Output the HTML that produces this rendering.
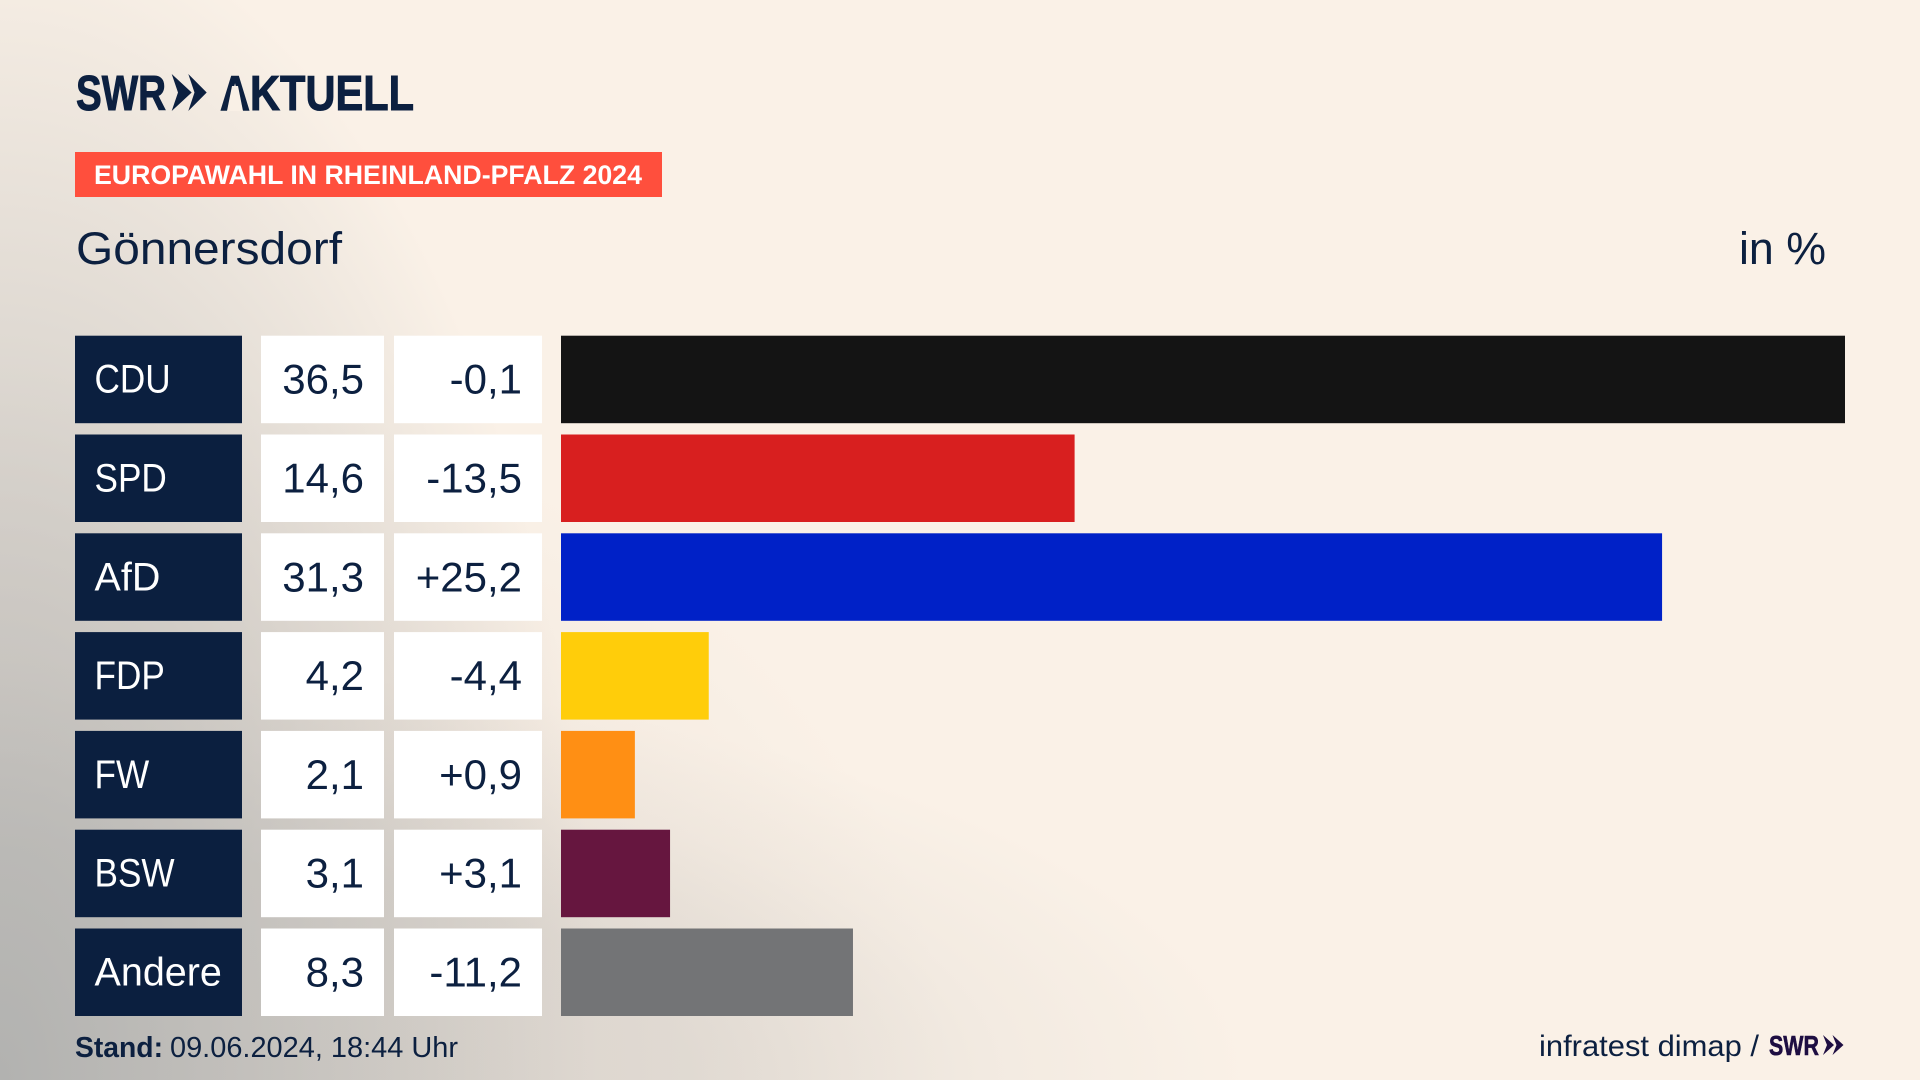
<!DOCTYPE html>
<html lang="de">
<head>
<meta charset="utf-8">
<title>Europawahl in Rheinland-Pfalz 2024 – Gönnersdorf</title>
<style>
html,body{margin:0;padding:0;width:1920px;height:1080px;overflow:hidden;background:#faf1e7;}
#stage{position:relative;width:1920px;height:1080px;overflow:hidden;
background:
 radial-gradient(ellipse 600px 1180px at 0px 1080px, rgba(178,178,176,1) 0%, rgba(178,178,176,0) 100%),
 radial-gradient(ellipse 1250px 420px at 0px 1080px, rgba(178,178,176,.36) 0%, rgba(178,178,176,.3) 55%, rgba(178,178,176,.1) 80%, rgba(178,178,176,0) 100%),
 radial-gradient(ellipse 950px 720px at 0px 1080px, rgba(190,175,165,.2) 0%, rgba(190,175,165,.12) 65%, rgba(190,175,165,0) 100%),
 #faf1e7;}
svg{position:absolute;left:0;top:0;}
text{font-family:"Liberation Sans",sans-serif;}
</style>
</head>
<body>
<div id="stage">
<svg id="chart" width="1920" height="1080" viewBox="0 0 1920 1080">
  <g fill="#0c2040" stroke="#0c2040" stroke-width="1">
    <text x="76" y="110" font-size="49" font-weight="700" textLength="90" lengthAdjust="spacingAndGlyphs">SWR</text>
    <polygon points="171.7,74 191.7,92.5 171.7,111 178,92.5" stroke="none"/>
    <polygon points="188.3,74 206.7,92.5 188.3,111 194.5,92.5" stroke="none"/>
    <text x="220" y="110" font-size="49" font-weight="700" textLength="194" lengthAdjust="spacingAndGlyphs">AKTUELL</text>
    <polygon points="232,86 238,86 243,111 227,111" fill="#f9f0e6" stroke="none"/>
  </g>
  <rect x="75" y="152" width="587" height="45" fill="#ff4f3d"/>
  <text x="94" y="184" font-size="27" font-weight="700" fill="#fff" textLength="548" lengthAdjust="spacingAndGlyphs">EUROPAWAHL IN RHEINLAND-PFALZ 2024</text>
  <text x="76" y="264" font-size="45" fill="#0c2040" textLength="266" lengthAdjust="spacingAndGlyphs">Gönnersdorf</text>
  <text x="1739" y="264" font-size="45" fill="#0c2040" textLength="87" lengthAdjust="spacingAndGlyphs">in %</text>
  <g id="rows"></g>
  <text x="75" y="1057" font-size="29" font-weight="700" fill="#0c2040" textLength="88" lengthAdjust="spacingAndGlyphs">Stand:</text>
  <text x="170" y="1057" font-size="29" fill="#0c2040" textLength="288" lengthAdjust="spacingAndGlyphs">09.06.2024, 18:44 Uhr</text>
  <text x="1539" y="1056" font-size="30" fill="#0c2040" textLength="220" lengthAdjust="spacingAndGlyphs">infratest dimap /</text>
  <g fill="#1e0e42">
    <text x="1769" y="1055" font-size="28" font-weight="700" stroke="#1e0e42" stroke-width=".6" textLength="50" lengthAdjust="spacingAndGlyphs">SWR</text>
    <polygon points="1823,1035 1834,1045 1823,1055 1827,1045"/>
    <polygon points="1832.5,1035 1843.5,1045 1832.5,1055 1836.5,1045"/>
  </g>
</svg>
</div>
<script>
const categories = ["CDU", "SPD", "AfD", "FDP", "FW", "BSW", "Andere"];
const shares = [36.5, 14.6, 31.3, 4.2, 2.1, 3.1, 8.3];
const changes = [-0.1, -13.5, 25.2, -4.4, 0.9, 3.1, -11.2];
const barColors = ["#141414", "#d81f1f", "#0021c7", "#ffcd0a", "#ff8f14", "#66163f", "#737476"];

const NS = "http://www.w3.org/2000/svg";
const rowsGroup = document.getElementById("rows");
const bandTop = 335.7, bandStep = 98.8, bandHeight = 87.5;
const barX0 = 561, pxPerPoint = 1284 / 36.5;

function yScale(i) { return bandTop + i * bandStep; }
function xScale(v) { return v * pxPerPoint; }
function fmtShare(v) { return v.toFixed(1).replace(".", ","); }
function fmtChange(v) { return (v > 0 ? "+" : "") + v.toFixed(1).replace(".", ","); }

function makeRect(x, y, w, h, fill) {
  const r = document.createElementNS(NS, "rect");
  r.setAttribute("x", x);
  r.setAttribute("y", y);
  r.setAttribute("width", w);
  r.setAttribute("height", h);
  r.setAttribute("fill", fill);
  return r;
}
function makeText(str, x, y, size, fill, anchor) {
  const t = document.createElementNS(NS, "text");
  t.textContent = str;
  t.setAttribute("x", x);
  t.setAttribute("y", y);
  t.setAttribute("font-size", size);
  t.setAttribute("fill", fill);
  t.setAttribute("text-anchor", anchor);
  return t;
}

categories.forEach(function (name, i) {
  const y = yScale(i);
  const slug = name.toLowerCase();

  const labelBox = makeRect(75, y, 167, bandHeight, "#0b1f3f");
  
  
  rowsGroup.appendChild(labelBox);

  const scaleX = /^[A-Z]+$/.test(name) ? 0.89 : 1;
  const label = makeText(name, 0, 0, 39.5, "#ffffff", "start");
  label.setAttribute("transform", "translate(94.5," + (y + 57) + ") scale(" + scaleX + ",1)");
  
  
  rowsGroup.appendChild(label);

  const shareBox = makeRect(261, y, 123, bandHeight, "#ffffff");
  
  
  rowsGroup.appendChild(shareBox);

  const shareText = makeText(fmtShare(shares[i]), 364, y + 58, 42, "#0c2040", "end");
  
  
  rowsGroup.appendChild(shareText);

  const changeBox = makeRect(394, y, 148, bandHeight, "#ffffff");
  
  
  rowsGroup.appendChild(changeBox);

  const changeText = makeText(fmtChange(changes[i]), 522, y + 58, 42, "#0c2040", "end");
  
  
  rowsGroup.appendChild(changeText);

  const bar = makeRect(barX0, y, xScale(shares[i]), bandHeight, barColors[i]);
  
  
  rowsGroup.appendChild(bar);
});
</script>
</body>
</html>
